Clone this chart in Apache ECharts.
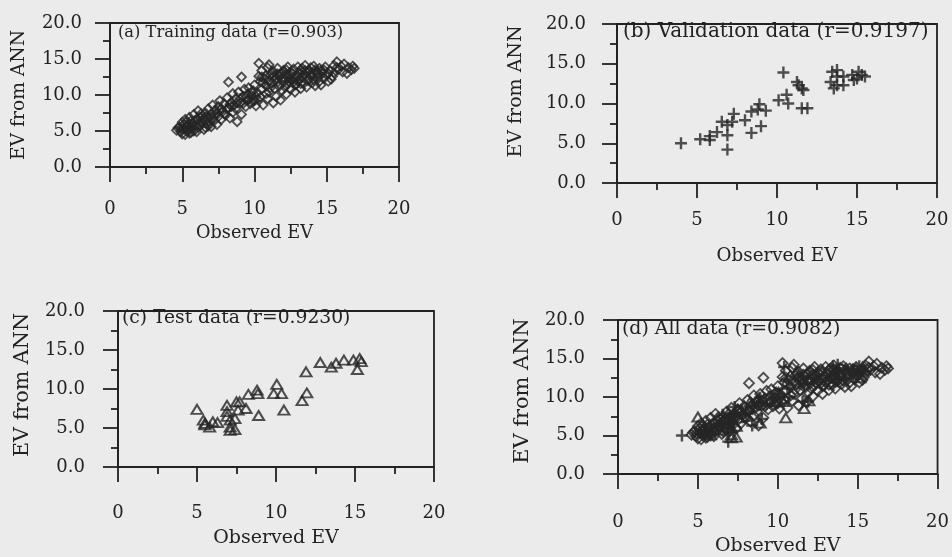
<!DOCTYPE html>
<html><head><meta charset="utf-8">
<script src="https://cdn.jsdelivr.net/npm/echarts@6/dist/echarts.min.js"></script>
<style>html,body{margin:0;padding:0;background:#ebebeb}#c{width:952px;height:557px}</style>
</head><body><div id="c"></div>
<script>
// Training data (diamonds): [observed EV, EV from ANN]
const training = [
 [4.6,5.1],[4.8,5.6],[4.9,4.9],[5.0,6.2],[5.1,5.4],[5.2,4.5],[5.2,6.6],[5.3,5.0],[5.4,5.8],[5.5,6.9],[5.5,4.7],
 [5.6,5.3],[5.7,6.1],[5.8,7.3],[5.9,5.6],[6.0,4.9],[6.0,6.6],[6.1,7.8],[6.2,5.8],[6.3,6.3],[6.4,7.1],[6.5,5.2],[6.5,6.8],
 [6.6,7.5],[6.7,6.0],[6.8,8.1],[6.9,6.9],[7.0,5.6],[7.0,7.4],[7.1,8.6],[7.2,6.4],[7.3,7.9],[7.4,5.9],[7.5,8.4],[7.5,7.0],
 [7.6,9.2],[7.7,6.6],[7.8,7.7],[7.9,8.8],[8.0,7.2],[8.1,9.6],[8.2,11.8],[8.2,8.2],[8.3,6.8],[8.4,9.0],[8.5,10.2],[8.5,7.6],
 [8.6,8.6],[8.7,9.5],[8.8,6.3],[8.9,10.4],[9.0,8.9],[9.1,12.5],[9.1,7.3],[9.2,9.8],[9.3,10.8],[9.4,8.4],[9.5,9.3],[9.5,10.1],
 [9.6,11.0],[9.7,8.8],[9.8,9.9],[9.9,10.6],[10.0,9.2],[10.0,11.4],[10.1,8.5],[10.2,10.3],[10.3,12.6],[10.3,14.4],[10.4,9.7],[10.4,11.9],[10.5,13.4],[10.5,10.8],
 [10.6,8.6],[10.7,12.2],[10.8,11.3],[10.9,13.8],[10.9,9.5],[11.0,14.2],[11.0,10.4],[11.1,12.8],[11.2,11.6],[11.3,8.9],[11.3,13.3],[11.4,10.9],[11.5,12.4],[11.5,9.8],
 [11.6,13.7],[11.7,11.2],[11.8,9.3],[11.8,12.9],[11.9,10.6],[12.0,13.4],[12.0,11.8],[12.1,12.3],[12.2,10.1],[12.3,13.9],[12.3,11.5],[12.4,12.7],[12.5,10.8],[12.5,13.2],
 [12.6,12.0],[12.7,13.6],[12.8,10.4],[12.8,11.4],[12.9,12.6],[13.0,13.9],[13.0,11.9],[13.1,13.1],[13.2,10.9],[13.3,12.4],[13.3,13.7],[13.4,11.6],[13.5,12.9],[13.5,14.1],
 [13.6,11.1],[13.7,13.3],[13.8,12.2],[13.9,13.8],[14.0,11.7],[14.0,12.8],[14.1,14.0],[14.2,11.3],[14.3,13.2],[14.4,12.5],[14.5,13.7],[14.5,11.9],
 [14.6,11.4],[14.7,13.0],[14.8,12.3],[14.9,13.9],[15.0,12.8],[15.1,11.9],[15.2,13.4],[15.4,12.6],[15.5,14.1],[15.5,13.1],
 [15.7,14.6],[15.8,13.5],[16.0,14.0],[16.1,13.2],[16.2,14.3],[16.4,13.0],[16.5,13.8],[16.7,13.5],[16.8,14.0],[16.9,13.7],
 [10.6,11.7],[10.8,12.7],[11.0,11.9],[11.2,13.0],[11.4,12.0],[11.6,11.8],[11.7,12.6],[11.9,13.1],[12.1,11.1],[12.2,12.9],
 [12.4,11.9],[12.6,13.0],[12.7,12.3],[12.9,11.5],[13.1,12.2],[13.2,13.5],[13.4,12.8],[13.6,12.6],[13.8,13.4],[14.1,12.1],
 [14.3,12.9],[14.6,13.4],[9.8,10.4],[10.1,9.8],[9.4,9.7],[9.0,9.5],[8.8,8.9],[8.3,8.7],
 [5.1,5.9],[5.4,5.2],[5.6,6.4],[5.8,5.0],[6.1,5.5],[6.3,7.4],[6.6,6.4],[6.8,5.7],[7.1,6.8],[7.4,7.5],[7.7,8.1],
 [4.9,5.3],[5.3,6.3],[6.0,6.0],[6.7,7.0],
 [4.7,5.4],[5.0,4.6],[5.3,5.5],[5.6,4.8],[5.7,5.7],[5.9,6.5],[6.2,6.9],[6.4,6.0],[6.6,5.5],[6.9,6.2],
 [7.2,7.2],[7.6,7.9],[7.9,7.4],[8.1,8.1],[8.4,8.4],[8.7,8.1],[9.2,8.8],[9.6,9.4],[9.9,9.1],[10.2,9.4],
 [10.5,12.5],[10.8,10.2],[11.1,11.0],[11.3,12.6],[11.6,12.9],[11.9,12.3],[12.2,13.5],[12.4,12.3],[12.7,11.8],[13.0,12.6],
 [13.2,11.6],[13.5,13.4],[13.7,12.0],[13.9,12.7],[14.2,13.5],[14.4,13.0],[14.8,13.5],[15.1,13.0],[15.3,12.2],[15.7,13.8]
];
// Validation data (plus signs)
const validation = [
 [4.0,5.0],[5.2,5.5],[5.8,5.9],[5.8,5.4],[6.25,6.4],[6.55,7.7],[6.9,7.3],[6.9,6.0],[6.9,4.2],[7.2,7.7],
 [7.3,8.7],[8.0,7.9],[8.4,6.3],[8.4,9.0],[8.9,9.9],[9.0,7.15],[8.8,9.25],[9.3,9.1],[10.4,13.9],[10.1,10.4],
 [10.6,11.1],[10.7,10.0],[11.25,12.7],[11.35,12.3],[11.65,11.7],[11.55,9.4],[11.9,9.4],[11.55,11.9],[13.45,14.0],[13.35,12.7],
 [13.75,13.4],[13.75,12.3],[14.15,12.3],[13.55,11.9],[14.8,12.95],[15.1,14.0],[15.3,13.6],[15.5,13.4],[15.0,13.15],[14.7,13.6],
 [14.15,13.4],[13.75,14.2]
];
// Test data (triangles)
const test = [
 [5.0,7.4],[5.4,6.0],[5.5,5.4],[5.8,5.1],[6.0,5.8],[6.3,5.7],[6.9,7.9],[6.9,7.1],[7.1,5.1],[7.1,6.0],
 [7.1,4.7],[7.4,4.8],[7.5,8.35],[7.6,7.3],[7.7,8.35],[8.1,7.5],[7.4,6.2],[8.9,6.6],[8.25,9.3],[8.8,9.85],
 [8.85,9.4],[9.85,9.4],[10.05,10.6],[10.35,9.4],[10.5,7.3],[11.65,8.5],[11.95,9.5],[11.9,12.2],[12.8,13.4],[13.5,12.8],
 [13.8,13.3],[14.3,13.7],[14.9,13.7],[15.3,13.9],[15.15,12.5],[15.4,13.5],[5.5,5.6],[6.9,6.5]
];
const panelTitles = ['(a) Training data (r=0.903)','(b) Validation data (r=0.9197)','(c) Test data (r=0.9230)','(d) All data (r=0.9082)'];
const xTickValues = [0,5,10,15,20];
const xTickLabels = ['0','5','10','15','20'];
const yTickValues = [0,5,10,15,20];
const yTickLabels = ['0.0','5.0','10.0','15.0','20.0'];
const xAxisName = 'Observed EV';
const yAxisName = 'EV from ANN';

const FONT = 'DejaVu Serif';
const INK = '#222222';
const MARK = '#262626';
const layout = [
 {grid:{left:110,top:23,width:289,height:144}, tl:118, tt:25, ts:16.3, ylm:28, xlm:33, xng:57, xns:17.7, yng:81, yns:18.7, ysh:0},
 {grid:{left:617,top:24,width:320,height:159}, tl:623, tt:22, ts:20, ylm:31, xlm:28, xng:64, xns:18.3, yng:91, yns:19, ysh:24},
 {grid:{left:118,top:311,width:316,height:156}, tl:122, tt:308.5, ts:18.7, ylm:33, xlm:37, xng:62, xns:19, yng:85, yns:20.7, ysh:8},
 {grid:{left:618,top:320,width:320,height:154}, tl:622, tt:319.5, ts:18.9, ylm:33, xlm:39, xng:63, xns:19, yng:85, yns:20.9, ysh:12}
];
const symDiamond = {symbol:'diamond', symbolSize:9, itemStyle:{color:'rgba(0,0,0,0)', borderColor:MARK, borderWidth:1.8}};
const symDiamondD = {symbol:'diamond', symbolSize:10, itemStyle:{color:'rgba(0,0,0,0)', borderColor:MARK, borderWidth:1.8}};
const symPlus = {symbol:'path://M0,5L10,5M5,0L5,10', symbolSize:12, itemStyle:{color:'rgba(0,0,0,0)', borderColor:MARK, borderWidth:2.4}};
const symTri = {symbol:'triangle', symbolSize:[11,9], itemStyle:{color:'rgba(0,0,0,0)', borderColor:MARK, borderWidth:2}};

const grids=[], xAxes=[], yAxes=[], titles=[], series=[];
layout.forEach((L,i)=>{
  grids.push(Object.assign({show:true, borderColor:INK, borderWidth:1.8, backgroundColor:'transparent', containLabel:false}, L.grid));
  titles.push({text:panelTitles[i], left:L.tl, top:L.tt, padding:0, textStyle:{fontFamily:FONT, fontSize:L.ts, fontWeight:'normal', color:INK}});
  const common = {gridIndex:i, type:'value', min:0, max:20, interval:5, splitLine:{show:false},
    axisLine:{show:true, onZero:false, lineStyle:{color:INK, width:1.8}},
    axisTick:{show:true, inside:false, length:15, lineStyle:{color:INK, width:1.8}},
    minorTick:{show:true, splitNumber:2, length:7, lineStyle:{color:INK, width:1.8}},
    nameLocation:'middle'};
  xAxes.push(Object.assign({}, common, {
    axisLabel:{margin:L.xlm, fontFamily:FONT, fontSize:18, color:INK, showMinLabel:true, showMaxLabel:true,
      formatter:v=>xTickLabels[xTickValues.indexOf(v)]},
    name:xAxisName, nameGap:L.xng, nameTextStyle:{fontFamily:FONT, fontSize:L.xns, color:INK}}));
  yAxes.push(Object.assign({}, common, {
    axisLabel:{margin:L.ylm, fontFamily:FONT, fontSize:18, color:INK, showMinLabel:true, showMaxLabel:true,
      formatter:v=>yTickLabels[yTickValues.indexOf(v)]},
    name:yAxisName, nameGap:L.yng, nameTextStyle:{fontFamily:FONT, fontSize:L.yns, color:INK, padding:[0,0,0,L.ysh]}}));
});
const mk = (i,data,sym)=>Object.assign({type:'scatter', xAxisIndex:i, yAxisIndex:i, data:data, silent:true}, sym);
series.push(mk(0,training,symDiamond));
series.push(mk(1,validation,symPlus));
series.push(mk(2,test,symTri));
series.push(mk(3,training,symDiamondD));
series.push(mk(3,validation,symPlus));
series.push(mk(3,test,symTri));

const chart = echarts.init(document.getElementById('c'), null, {renderer:'canvas'});
chart.setOption({backgroundColor:'#ebebeb', animation:false, title:titles, grid:grids, xAxis:xAxes, yAxis:yAxes, series:series});
</script></body></html>
